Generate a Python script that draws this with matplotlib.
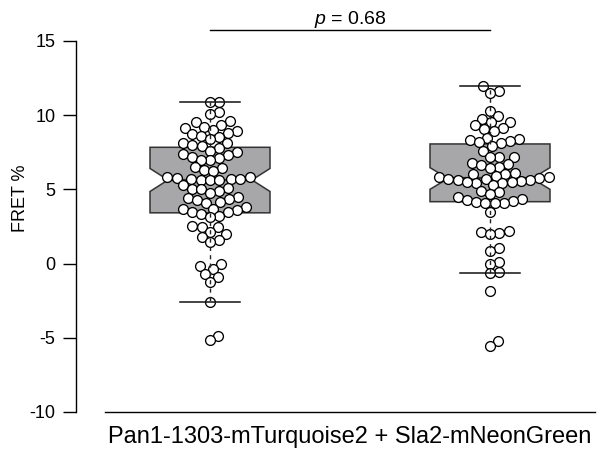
import numpy as np
import matplotlib
matplotlib.use("Agg")
import matplotlib.pyplot as plt

plt.rcParams['font.family'] = ['Liberation Sans', 'DejaVu Sans']
plt.rcParams['mathtext.fontset'] = 'custom'
plt.rcParams['mathtext.rm'] = 'Liberation Sans'
plt.rcParams['mathtext.it'] = 'Liberation Sans:italic'

# ---- data ----
group_label = "Pan1-1303-mTurquoise2 + Sla2-mNeonGreen"
y_ticks = [-10, -5, 0, 5, 10, 15]
y_label = "FRET %"
p_text = "$p$ = 0.68"

g1 = [10.9, 10.85,
      10.2, 10.1,
      9.6, 9.5, 9.3, 9.2, 9.1,
      9.0, 8.9, 8.8, 8.7, 8.6, 8.5, 8.4,
      8.1, 8.1, 8.0, 7.9, 7.8,
      7.6, 7.5, 7.4, 7.3, 7.2,
      7.1, 6.95, 7.0,
      6.5, 6.4, 6.3, 6.2,
      5.8, 5.8, 5.75, 5.7, 5.7, 5.7, 5.65, 5.6, 5.6,
      5.3, 5.1, 5.05, 5.0, 4.9, 4.75,
      4.5, 4.4, 4.35, 4.3, 4.15, 4.1,
      3.8, 3.7, 3.65, 3.6, 3.5, 3.45,
      3.3, 3.2, 3.1,
      2.5, 2.46, 2.45, 2.15, 2.0,
      1.8, 1.6, 1.45,
      0.0, -0.2, -0.35,
      -0.7, -0.9, -1.25,
      -2.58,
      -4.85, -5.15]

g2 = [11.94, 11.6, 11.5,
      10.25, 9.9, 9.75,
      9.5, 9.5, 9.3, 9.1, 9.05, 8.9,
      8.45, 8.4, 8.3, 8.25, 8.15, 8.1, 7.9,
      7.6, 7.2, 7.15, 7.2,
      6.8, 6.7, 6.6, 6.5, 6.4,
      6.1, 6.05, 6.0, 5.9, 5.85, 5.8, 5.75, 5.7, 5.7, 5.65, 5.6, 5.55, 5.5, 5.45,
      5.5, 5.4, 5.3,
      4.9, 4.8, 4.7,
      4.45, 4.35, 4.3, 4.2, 4.15, 4.1, 4.1, 4.05,
      3.5,
      2.2, 2.1, 2.05, 2.0,
      1.05, 0.85,
      0.1, 0.0,
      -0.55, -0.65,
      -1.87,
      -5.2, -5.55]

groups = [g1, g2]
positions = [1, 2]

# ---- figure ----
W, H = 600, 455
fig = plt.figure(figsize=(W / 100, H / 100), dpi=100)
left_px, right_px, top_px, bot_px = 76, 598, 5, 412
ax = fig.add_axes([left_px / W, 1 - bot_px / H,
                   (right_px - left_px) / W, (bot_px - top_px) / H])

px_per_x = 280.0
px_per_y = 14.85
ymin = -10
ymax = ymin + (bot_px - top_px) / px_per_y
xmin = 1 - (210 - left_px) / px_per_x
xmax = 2 + (right_px - 490) / px_per_x
ax.set_xlim(xmin, xmax)
ax.set_ylim(ymin, ymax)

box_w = 120 / px_per_x
cap_w = 60 / px_per_x

bp = ax.boxplot(groups, positions=positions, widths=box_w, notch=True,
                patch_artist=True, showfliers=False, capwidths=cap_w,
                boxprops=dict(facecolor='#a7a7a9', edgecolor='#333333', linewidth=1.1),
                whiskerprops=dict(color='#222222', linewidth=1.0, linestyle=(0, (3, 3))),
                capprops=dict(color='#111111', linewidth=1.1),
                medianprops=dict(color='#333333', linewidth=1.6),
                manage_ticks=False)

# narrower notch (inset 0.15 of box width on each side)
inset = 0.15 * box_w
for pos, box, med in zip(positions, bp['boxes'], bp['medians']):
    verts = box.get_path().vertices
    verts[3, 0] = pos + box_w / 2 - inset
    verts[8, 0] = pos - box_w / 2 + inset
    med.set_xdata([pos - box_w / 2 + inset, pos + box_w / 2 - inset])
    box.set_zorder(1)
    med.set_zorder(1.5)
for ln in bp['whiskers'] + bp['caps']:
    ln.set_zorder(3)


def swarm_offsets(vals, d):
    ys = np.asarray(vals) * px_per_y
    order = np.argsort(ys, kind='stable')
    placed = []
    xs = np.zeros(len(ys))
    for i in order:
        y = ys[i]
        cands = [0.0]
        for xj, yj in placed:
            dy = y - yj
            if abs(dy) < d:
                dx = np.sqrt(d * d - dy * dy)
                cands += [xj + dx, xj - dx]
        cands.sort(key=lambda c: (abs(c), -c))
        for c in cands:
            if all((c - xj) ** 2 + (y - yj) ** 2 >= d * d - 1e-6 for xj, yj in placed):
                xs[i] = c
                break
        placed.append((xs[i], y))
    return xs / px_per_x


for pos, vals in zip(positions, groups):
    off = swarm_offsets(vals, 9.4)
    ax.scatter(pos + off, vals, s=50, facecolor='white', edgecolor='black',
               linewidths=0.95, zorder=2)

# significance bar
ax.plot([1, 2], [15.71, 15.71], color='black', linewidth=1.0, clip_on=False)
ax.text(1.5, 16.16, p_text, ha='center', va='baseline', fontsize=14)

# axes styling
for s in ['top', 'right']:
    ax.spines[s].set_visible(False)
ax.spines['left'].set_bounds(-10, 15)
ax.spines['bottom'].set_bounds(1 - 105 / px_per_x, 2 + 105 / px_per_x)
ax.spines['left'].set_linewidth(1.0)
ax.spines['bottom'].set_linewidth(1.0)

ax.set_yticks(y_ticks)
ax.set_yticklabels([str(t) for t in y_ticks], fontsize=13)
ax.tick_params(axis='y', length=9.4, width=1.0, pad=5.5)
ax.set_xticks([1.5])
ax.set_xticklabels([group_label], fontsize=17)
ax.tick_params(axis='x', length=0, pad=10)

ax.set_ylabel(y_label, fontsize=13)
ax.yaxis.set_label_coords((29 - left_px) / (right_px - left_px), (bot_px - 198) / (bot_px - top_px))

fig.savefig("out.png", dpi=100)
